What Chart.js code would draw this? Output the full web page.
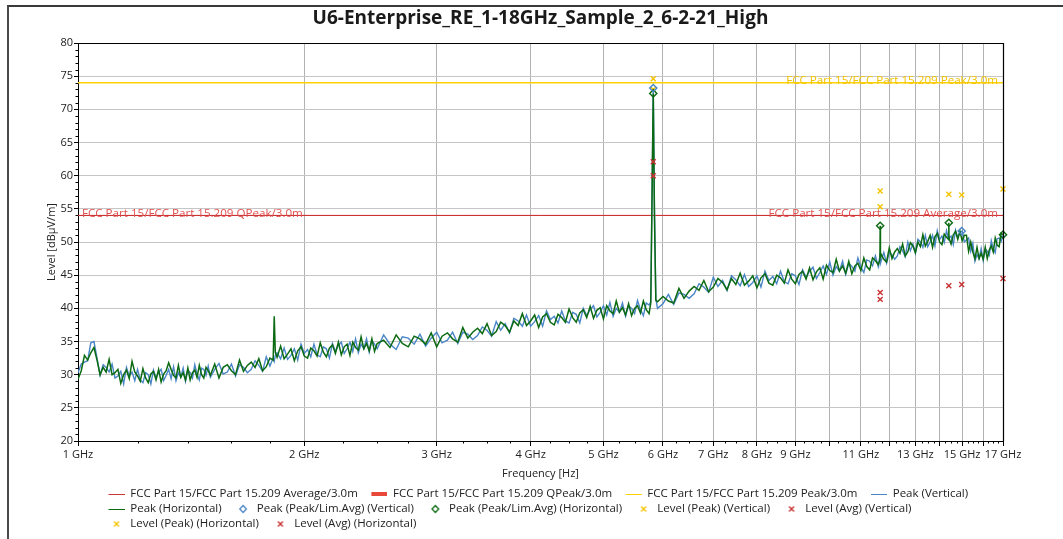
<!DOCTYPE html>
<html><head><meta charset="utf-8">
<script src="https://cdn.jsdelivr.net/npm/chart.js@4.4.1/dist/chart.umd.min.js"></script>
<style>
html,body{margin:0;padding:0;background:#fff;overflow:hidden;}
#wrap{position:relative;width:1063px;height:539px;overflow:hidden;}
#frame{position:absolute;left:7px;top:5px;width:1100px;height:600px;border-left:2px solid #4a4a4a;border-top:2px solid #3a3a3a;}
canvas{position:absolute;left:0;top:0;}
</style></head><body>
<div id="wrap"><div id="frame"></div><canvas id="c" width="1063" height="539"></canvas></div>
<script>
// ---------------- DATA ----------------
const chartTitle = 'U6-Enterprise_RE_1-18GHz_Sample_2_6-2-21_High';

const freqGHz = [
 1.00,1.01,1.02,1.03,1.04,1.05,1.06,1.07,1.08,1.09,1.10,1.11,1.12,1.13,1.14,1.15,1.16,1.17,1.18,1.19,
 1.20,1.21,1.22,1.23,1.24,1.25,1.26,1.27,1.28,1.29,1.30,1.31,1.32,1.33,1.34,1.35,1.36,1.37,1.38,1.39,
 1.40,1.41,1.42,1.43,1.44,1.45,1.46,1.47,1.48,1.49,1.50,
 1.52,1.54,1.56,1.58,1.60,1.62,1.64,1.66,1.68,1.70,1.72,1.74,1.76,1.78,1.80,1.818,1.824,1.830,
 1.84,1.86,1.88,1.90,1.92,1.94,1.96,1.98,2.00,2.02,2.04,2.06,2.08,2.10,2.12,2.14,2.16,2.18,2.20,2.22,
 2.24,2.26,2.28,2.30,2.32,2.34,2.36,2.38,2.40,2.42,2.44,2.46,2.48,2.50,
 2.55,2.60,2.65,2.70,2.75,2.80,2.85,2.90,2.95,3.00,3.05,3.10,3.15,3.20,3.25,3.30,3.35,3.40,3.45,3.50,
 3.55,3.60,3.65,3.70,3.75,3.80,3.85,3.90,3.95,4.00,
 4.05,4.10,4.15,4.20,4.25,4.30,4.35,4.40,4.45,4.50,4.55,4.60,4.65,4.70,4.75,4.80,4.85,4.90,4.95,5.00,
 5.05,5.10,5.15,5.20,5.25,5.30,5.35,5.40,5.45,5.50,5.55,5.60,5.65,5.70,5.75,
 5.78,5.80,5.824,5.845,5.87,
 5.9,6.0,6.1,6.2,6.3,6.4,6.5,6.6,6.7,6.8,6.9,7.0,7.1,7.2,7.3,7.4,7.5,7.6,7.7,7.8,
 7.9,8.0,8.1,8.2,8.3,8.4,8.5,8.6,8.7,8.8,8.9,9.0,9.1,9.2,9.3,9.4,9.5,9.6,9.7,9.8,9.9,10.0,
 10.1,10.2,10.3,10.4,10.5,10.6,10.7,10.8,10.9,11.0,11.1,11.2,11.3,11.4,11.5,11.6,11.66,11.67,11.68,
 11.7,11.8,11.9,12.0,12.1,12.2,12.3,12.4,12.5,12.6,12.7,12.8,12.9,13.0,
 13.1,13.2,13.3,13.4,13.5,13.6,13.7,13.8,13.9,14.0,14.1,14.2,14.3,14.39,14.40,14.41,
 14.5,14.6,14.7,14.8,14.9,15.0,15.1,15.2,15.3,15.4,15.5,15.6,15.7,15.8,15.9,16.0,16.1,16.2,16.3,16.4,
 16.5,16.6,16.7,16.8,16.9,17.0
];

const peakVertical = [
 30.3,31.6,31.9,32.1,34.8,35.0,32.5,29.9,31.5,31.1,30.4,31.6,29.5,29.8,30.5,28.6,31.1,29.8,30.4,29.1,
 30.8,29.2,28.8,30.3,30.0,28.6,30.7,29.5,30.3,30.8,29.1,29.9,30.8,29.4,31.2,29.1,30.3,29.6,31.0,29.0,
 30.7,30.3,29.5,31.5,30.1,29.2,31.0,30.8,29.9,31.3,29.6,
 30.8,31.7,30.1,30.4,31.6,29.8,31.5,31.1,30.3,30.8,32.1,31.4,30.5,32.7,31.3,32.5,32.0,32.9,
 33.3,32.4,34.0,32.3,32.9,33.9,32.2,34.6,33.2,33.8,32.7,34.6,33.0,32.7,34.2,33.9,32.5,34.7,33.5,34.4,
 34.9,33.2,33.9,34.9,33.5,35.4,33.3,34.6,33.9,35.4,33.4,35.1,34.6,33.9,
 36.0,34.6,33.8,35.7,35.5,34.6,36.1,34.3,35.5,36.4,34.8,35.2,36.4,34.7,36.4,36.1,35.3,35.9,37.2,36.7,
 35.8,38.0,36.7,37.7,36.3,38.5,38.1,37.3,39.0,37.3,
 38.0,38.9,37.3,39.6,38.3,38.8,37.8,39.6,38.1,37.8,39.4,39.1,37.8,40.0,38.9,39.8,40.4,38.7,39.4,40.4,
 39.0,40.9,38.8,40.0,39.4,40.8,38.8,40.4,40.0,39.2,41.2,39.8,38.9,40.8,40.5,
 41.0,56.0,73.2,55.5,41.5,
 40.0,40.7,42.1,40.6,42.3,42.1,41.5,42.2,43.7,43.2,42.4,44.7,43.3,44.2,42.7,44.9,44.3,43.4,45.1,43.3,
 43.9,44.9,43.2,45.6,44.2,44.8,43.7,45.6,44.0,43.7,45.2,44.9,43.6,45.8,44.7,45.6,46.2,44.5,45.4,46.4,45.1,47.0,
 45.0,46.3,45.6,47.1,45.1,46.8,46.3,45.6,47.6,46.2,45.4,47.3,47.1,46.4,47.9,46.3,47.9,47.2,46.8,
 47.1,48.4,46.8,48.4,48.1,47.4,47.9,49.3,48.7,47.8,50.0,48.7,49.7,48.3,
 50.4,50.0,49.2,51.0,49.3,50.0,51.0,49.4,51.7,50.4,50.9,49.9,51.7,50.3,50.9,50.6,
 50.9,49.6,51.8,50.7,51.4,51.65,50.0,50.3,50.6,48.6,49.8,47.1,48.1,47.5,49.0,47.2,48.9,48.6,48.0,50.2,
 49.0,48.4,50.5,50.6,50.1,51.0
];

const peakHorizontal = [
 29.3,30.6,32.9,32.2,33.3,34.1,32.2,30.0,31.1,30.4,32.3,30.0,30.3,30.8,28.7,30.0,30.7,29.4,32.0,30.4,
 29.8,29.0,30.9,29.5,28.8,30.1,30.5,29.2,30.8,28.9,30.1,30.6,31.8,30.8,29.9,29.5,31.4,29.6,30.3,29.2,
 31.0,29.2,30.3,30.7,29.6,31.4,30.0,29.5,31.1,30.6,29.9,
 31.6,29.5,31.1,31.5,30.6,30.0,32.2,30.5,31.4,31.9,31.1,32.4,30.6,31.2,32.5,32.2,38.8,33.4,
 32.6,34.3,32.4,33.1,33.9,32.1,33.6,34.2,32.8,32.5,34.0,33.6,32.8,34.8,33.4,32.7,34.0,34.5,33.2,34.9,
 33.0,34.2,34.6,32.9,34.9,34.1,33.7,35.7,33.9,34.7,33.6,35.4,33.5,34.7,
 35.2,34.1,36.0,34.7,34.2,35.8,35.4,34.6,36.3,34.2,35.8,36.3,35.4,34.9,37.1,35.5,36.4,37.0,36.2,37.7,
 35.9,36.5,37.9,37.4,36.4,38.1,37.4,39.2,37.4,38.1,
 39.0,37.1,38.7,39.2,37.9,37.5,39.1,38.6,37.9,39.9,38.6,37.9,39.3,39.8,38.6,40.3,38.5,39.7,40.1,38.4,
 40.4,39.6,39.2,41.1,39.4,40.1,39.0,40.7,38.9,40.0,40.4,39.3,41.1,39.8,39.2,
 40.8,55.0,72.4,54.0,41.2,
 41.0,41.8,41.1,40.8,43.0,41.5,42.6,43.3,42.7,44.2,42.5,43.2,44.5,43.9,42.8,44.5,43.6,45.3,43.5,44.1,
 44.9,43.1,44.6,45.2,43.8,43.5,45.0,44.6,43.8,45.8,44.4,43.7,45.1,45.6,44.4,46.1,44.3,45.5,46.1,44.4,46.5,45.7,
 45.4,47.4,45.6,46.4,45.3,47.1,45.2,46.4,46.8,45.7,47.6,46.3,45.8,47.6,47.2,46.6,47.3,52.45,47.6,
 48.2,47.4,47.0,49.1,47.5,48.5,49.0,48.3,49.7,47.9,48.5,49.9,49.4,48.4,
 50.0,49.3,51.1,49.4,50.1,51.0,49.2,50.8,51.3,50.0,49.6,51.2,50.7,50.4,52.9,50.6,
 49.7,51.1,51.6,50.4,51.6,50.2,51.0,51.0,48.6,50.0,48.5,47.5,49.2,47.5,48.3,47.4,49.2,47.5,48.8,49.4,
 48.5,50.6,49.5,49.3,51.3,51.1
];

// limit lines (dBµV/m)
const avgLimit = 54, qpeakLimit = 54, peakLimit = 74;
const limitSpanGHz = [1, 17];

// markers
const pkLimAvgVertF = [5.824, 14.98];              const pkLimAvgVertY = [73.2, 51.65];
const pkLimAvgHorzF = [5.824, 11.67, 14.40, 17.0]; const pkLimAvgHorzY = [72.4, 52.45, 52.9, 51.1];
const lvlPeakVertF  = [5.824, 11.67, 14.98];       const lvlPeakVertY  = [74.6, 55.3, 57.1];
const lvlAvgVertF   = [5.824, 11.67, 14.98];       const lvlAvgVertY   = [62.1, 41.35, 43.6];
const lvlPeakHorzF  = [5.824, 11.67, 14.40, 17.0]; const lvlPeakHorzY  = [73.0, 57.7, 57.2, 58.0];
const lvlAvgHorzF   = [5.824, 11.67, 14.40, 17.0]; const lvlAvgHorzY   = [60.0, 42.4, 43.4, 44.5];

// axes
const xTickValues = [1,2,3,4,5,6,7,8,9,10,11,12,13,14,15,16,17];
const xTickLabels = ['1 GHz','2 GHz','3 GHz','4 GHz','5 GHz','6 GHz','7 GHz','8 GHz','9 GHz','','11 GHz','','13 GHz','','15 GHz','','17 GHz'];
const yTickValues = [20,25,30,35,40,45,50,55,60,65,70,75,80];

const names = {
  avg:'FCC Part 15/FCC Part 15.209 Average/3.0m',
  qp:'FCC Part 15/FCC Part 15.209 QPeak/3.0m',
  pk:'FCC Part 15/FCC Part 15.209 Peak/3.0m'
};

// ---------------- CHART ----------------
const FONT = "'Open Sans', 'Noto Sans', 'DejaVu Sans', sans-serif";
Chart.defaults.font.family = FONT;
Chart.defaults.color = '#222';

const C = { avg:'#cc3434', qp:'#e8483a', pk:'#ffd000', vert:'#4a86c6', horz:'#0b6a12', yel:'#f5c400', red:'#c83232',
            avgTxt:'#e05050', pkTxt:'#f2c200' };

const n = Math.min(freqGHz.length, peakVertical.length, peakHorizontal.length);
if (freqGHz.length !== peakVertical.length || freqGHz.length !== peakHorizontal.length)
  console.error('length mismatch', freqGHz.length, peakVertical.length, peakHorizontal.length);
const toXY = (xs, ys) => xs.slice(0, Math.min(xs.length, ys.length)).map((x, i) => ({x, y: ys[i]}));

function icon(draw) {
  const c = document.createElement('canvas'); c.width = 26; c.height = 12;
  const g = c.getContext('2d'); draw(g); return c;
}
const lineIcon = (col, h) => icon(g => { g.fillStyle = col; g.fillRect(10, Math.round(6 - h / 2), 16, h); });
const diamondIcon = col => icon(g => { g.strokeStyle = col; g.lineWidth = 1.3; g.beginPath();
  g.moveTo(18, 2.5); g.lineTo(21.3, 6); g.lineTo(18, 9.5); g.lineTo(14.7, 6); g.closePath(); g.stroke(); });
const crossIcon = col => icon(g => { g.strokeStyle = col; g.lineWidth = 1.4; g.beginPath();
  g.moveTo(15.5, 3.5); g.lineTo(20.5, 8.5); g.moveTo(20.5, 3.5); g.lineTo(15.5, 8.5); g.stroke(); });
const legendIcons = [lineIcon(C.avg, 1), lineIcon(C.qp, 4), lineIcon(C.pk, 1), lineIcon(C.vert, 1),
  lineIcon(C.horz, 1), diamondIcon(C.vert), diamondIcon(C.horz), crossIcon(C.yel), crossIcon(C.red),
  crossIcon(C.yel), crossIcon(C.red)];

const limitDs = (label, val, col, w) => ({ label, data: toXY(limitSpanGHz, [val, val]), borderColor: col,
  backgroundColor: col, borderWidth: w, pointRadius: 0, order: 3 });
const markerDs = (label, xs, ys, style, col, r, w) => ({ label, data: toXY(xs, ys), showLine: false,
  pointStyle: style, pointRadius: r, pointHoverRadius: r, borderColor: col, backgroundColor: 'rgba(255,255,255,0)',
  pointBorderWidth: w, borderWidth: w, order: 0, clip: false });

const datasets = [
  limitDs(names.avg, avgLimit, C.avg, 1),
  limitDs(names.qp, qpeakLimit, C.avg, 1),
  limitDs(names.pk, peakLimit, C.pk, 1.5),
  { label:'Peak (Vertical)', data: toXY(freqGHz.slice(0,n), peakVertical), borderColor: C.vert, backgroundColor: C.vert,
    borderWidth: 1.4, pointRadius: 0, order: 2 },
  { label:'Peak (Horizontal)', data: toXY(freqGHz.slice(0,n), peakHorizontal), borderColor: C.horz, backgroundColor: C.horz,
    borderWidth: 1.5, pointRadius: 0, order: 1 },
  markerDs('Peak (Peak/Lim.Avg) (Vertical)', pkLimAvgVertF, pkLimAvgVertY, 'rectRot', C.vert, 3.6, 1.4),
  markerDs('Peak (Peak/Lim.Avg) (Horizontal)', pkLimAvgHorzF, pkLimAvgHorzY, 'rectRot', C.horz, 3.6, 1.4),
  markerDs('Level (Peak) (Vertical)', lvlPeakVertF, lvlPeakVertY, 'crossRot', C.yel, 3.5, 1.4),
  markerDs('Level (Avg) (Vertical)', lvlAvgVertF, lvlAvgVertY, 'crossRot', C.red, 3.5, 1.4),
  markerDs('Level (Peak) (Horizontal)', lvlPeakHorzF, lvlPeakHorzY, 'crossRot', C.yel, 3.5, 1.4),
  markerDs('Level (Avg) (Horizontal)', lvlAvgHorzF, lvlAvgHorzY, 'crossRot', C.red, 3.5, 1.4)
];

const legendShift = { id:'legendShift', afterLayout(chart) {
  const l = chart.legend; if (l) { l.left += 17; l.right += 17; l.top += 0.75; l.bottom += 0.75; } } };

const decor = { id:'decor', afterDatasetsDraw(chart) {
  const {ctx, chartArea: a, scales: {x, y}} = chart;
  ctx.save();
  // limit labels
  ctx.font = '11.6px ' + FONT;
  ctx.textBaseline = 'alphabetic';
  ctx.fillStyle = C.avgTxt;
  ctx.textAlign = 'left';
  ctx.fillText(names.qp, a.left + 4, y.getPixelForValue(qpeakLimit) + 1.5);
  ctx.textAlign = 'right';
  ctx.fillText(names.avg, a.right - 5, y.getPixelForValue(avgLimit) + 1.5);
  ctx.fillStyle = C.pkTxt;
  ctx.fillText(names.pk, a.right - 5, y.getPixelForValue(peakLimit) + 1.5);
  // top / right frame
  ctx.strokeStyle = '#000'; ctx.lineWidth = 1.2;
  ctx.beginPath();
  ctx.moveTo(a.left, Math.round(a.top) + 0.5); ctx.lineTo(a.right + 0.5, Math.round(a.top) + 0.5);
  ctx.moveTo(Math.round(a.right) + 0.5, a.top); ctx.lineTo(Math.round(a.right) + 0.5, a.bottom);
  ctx.stroke();
  // minor ticks
  ctx.lineWidth = 1; ctx.beginPath();
  for (let v = 21; v < 80; v++) { if (v % 5 === 0) continue;
    const py = Math.round(y.getPixelForValue(v)) + 0.5; ctx.moveTo(a.left - 2.5, py); ctx.lineTo(a.left, py); }
  const minorX = [];
  for (let g = 1; g < 17; g++) { const step = g < 2 ? 0.2 : 0.25;
    for (let f = g + step; f < g + 1 - 1e-6; f += step) minorX.push(f); }
  minorX.forEach(f => { const px = Math.round(x.getPixelForValue(f)) + 0.5; ctx.moveTo(px, a.bottom); ctx.lineTo(px, a.bottom + 2.5); });
  ctx.stroke();
  ctx.restore();
} };

new Chart(document.getElementById('c'), {
  type: 'line',
  data: { datasets },
  options: {
    responsive: false, animation: false, devicePixelRatio: 1,
    layout: { padding: { left: 45, right: 60, top: 0, bottom: 0 } },
    elements: { line: { tension: 0 } },
    scales: {
      x: {
        type: 'logarithmic', min: 1, max: 17, position: 'bottom',
        afterBuildTicks: s => { s.ticks = xTickValues.map(v => ({ value: v })); },
        afterFit: s => { s.height = 43; },
        ticks: { autoSkip: false, maxRotation: 0, minRotation: 0, padding: 2, font: { size: 11 }, color: '#222',
          callback: (v, i) => xTickLabels[i] ?? '' },
        grid: { color: c => (c.tick && (c.tick.value === 1 || c.tick.value === 17)) ? 'rgba(0,0,0,0)' : '#b2b2b2',
          lineWidth: 1, tickLength: 5, tickColor: '#000', drawTicks: true },
        border: { color: '#000', width: 1 },
        title: { display: true, text: 'Frequency [Hz]', font: { size: 11 }, color: '#222', padding: { top: 0, bottom: 4 } }
      },
      y: {
        type: 'linear', min: 20, max: 80,
        afterBuildTicks: s => { s.ticks = yTickValues.map(v => ({ value: v })); },
        afterFit: s => { s.width = 33; },
        ticks: { padding: 1, font: { size: 11 }, color: '#222' },
        grid: { color: c => (c.tick && (c.tick.value === 20 || c.tick.value === 80)) ? 'rgba(0,0,0,0)' : '#c6c6c6',
          lineWidth: 1, tickLength: 4, tickColor: '#000' },
        border: { color: '#000', width: 1 },
        title: { display: true, text: 'Level [dBµV/m]', font: { size: 11 }, color: '#222', padding: { top: 0, bottom: 0 } }
      }
    },
    plugins: {
      title: { display: true, fullSize: false, text: chartTitle, font: { size: 19, weight: 'bold' }, color: '#1a1a1a',
        padding: { top: 7.6, bottom: 12.6 } },
      legend: {
        position: 'bottom', fullSize: false, align: 'start',
        labels: {
          usePointStyle: true, pointStyleWidth: 26, boxHeight: 11.5, padding: 3.5,
          font: { size: 11.5 }, color: '#222',
          sort: (a, b) => a.datasetIndex - b.datasetIndex,
          generateLabels: chart => {
            const items = Chart.defaults.plugins.legend.labels.generateLabels(chart);
            items.forEach(it => { it.pointStyle = legendIcons[it.datasetIndex]; it.rotation = 0; });
            return items;
          }
        }
      },
      tooltip: { enabled: false }
    }
  },
  plugins: [legendShift, decor]
});
</script></body></html>
